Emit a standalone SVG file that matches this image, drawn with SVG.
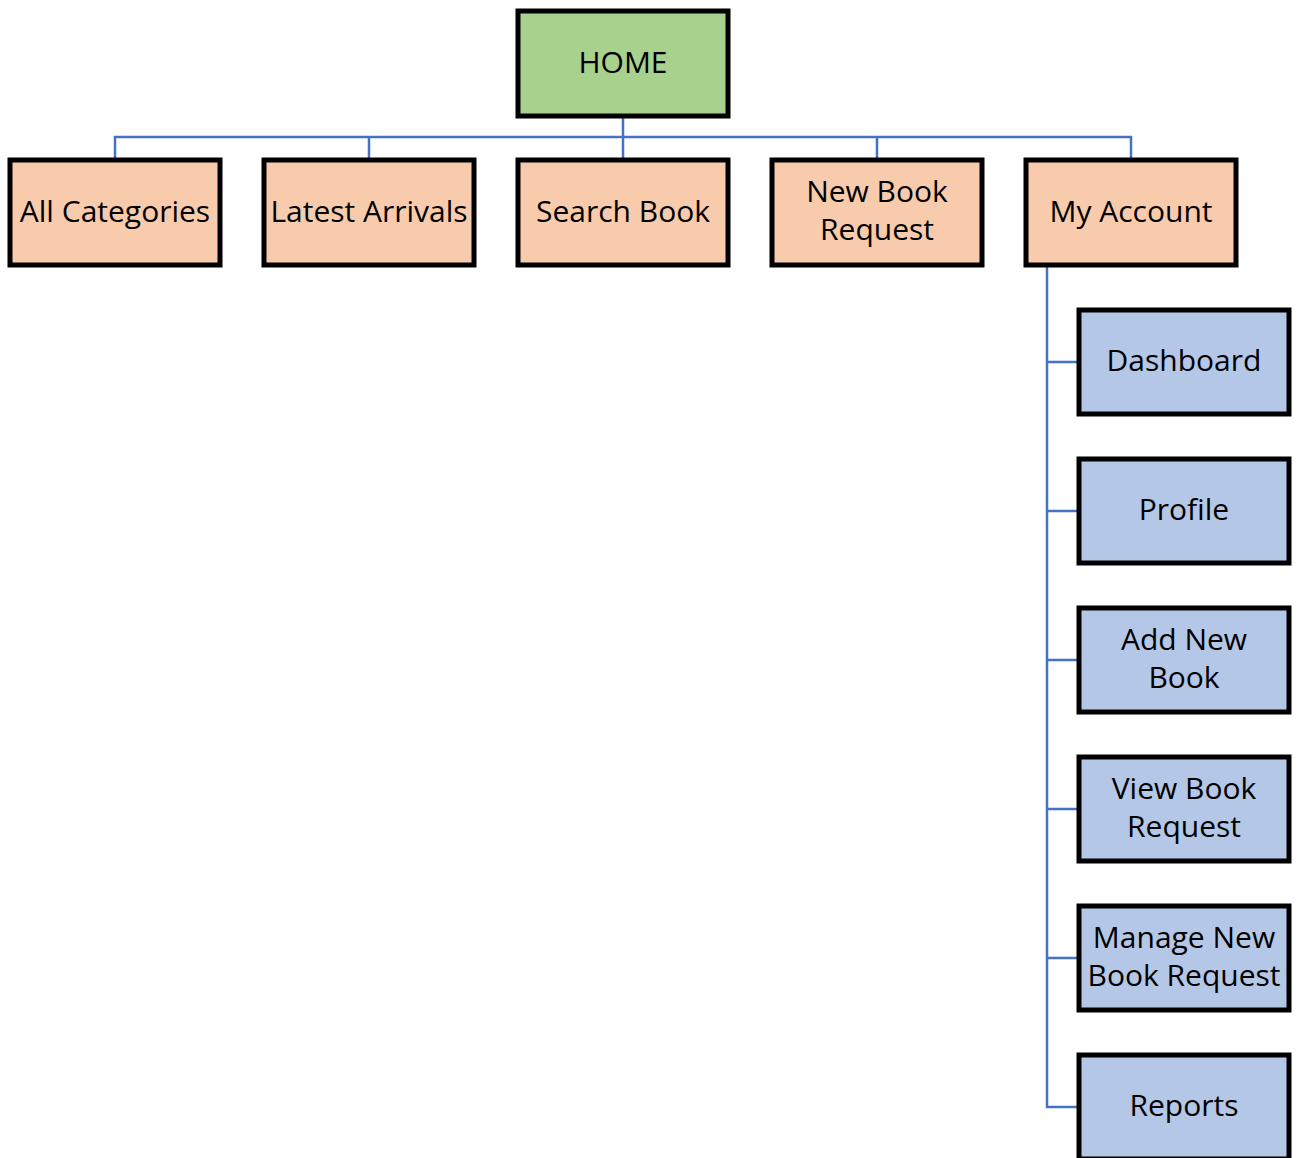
<svg xmlns="http://www.w3.org/2000/svg" width="1298" height="1158" viewBox="0 0 1298 1158">
<style>
.box{stroke:#000;stroke-width:5}
.home{fill:#a9d18e}
.top{fill:#f8cbad}
.sub{fill:#b4c7e7}
.lbl{font-family:"Open Sans","Liberation Sans",sans-serif;font-size:30px;fill:#000;text-anchor:middle}
.conn{fill:none;stroke:#4472c4;stroke-width:2.5}
</style>
<rect width="1298" height="1158" fill="#fff"/>
<g id="connectors">
<path class="conn" d="M623 116V158M115 158V137H1131V158M369 137V158M877 137V158"/>
<path class="conn" d="M1047 265V1107H1079M1047 362H1079M1047 511H1079M1047 660H1079M1047 809H1079M1047 958H1079"/>
</g>
<g id="home"><rect class="box home" x="518" y="11" width="210" height="105"/><text class="lbl" x="623" y="73">HOME</text></g>
<g id="all-categories"><rect class="box top" x="10" y="160" width="210" height="105"/><text class="lbl" x="115" y="222">All Categories</text></g>
<g id="latest-arrivals"><rect class="box top" x="264" y="160" width="210" height="105"/><text class="lbl" x="369" y="222">Latest Arrivals</text></g>
<g id="search-book"><rect class="box top" x="518" y="160" width="210" height="105"/><text class="lbl" x="623" y="222">Search Book</text></g>
<g id="new-book-request"><rect class="box top" x="772" y="160" width="210" height="105"/><text class="lbl" x="877" y="202">New Book</text><text class="lbl" x="877" y="240">Request</text></g>
<g id="my-account"><rect class="box top" x="1026" y="160" width="210" height="105"/><text class="lbl" x="1131" y="222">My Account</text></g>
<g id="dashboard"><rect class="box sub" x="1079" y="310" width="210" height="104"/><text class="lbl" x="1184" y="371">Dashboard</text></g>
<g id="profile"><rect class="box sub" x="1079" y="459" width="210" height="104"/><text class="lbl" x="1184" y="520">Profile</text></g>
<g id="add-new-book"><rect class="box sub" x="1079" y="608" width="210" height="104"/><text class="lbl" x="1184" y="650">Add New</text><text class="lbl" x="1184" y="688">Book</text></g>
<g id="view-book-request"><rect class="box sub" x="1079" y="757" width="210" height="104"/><text class="lbl" x="1184" y="799">View Book</text><text class="lbl" x="1184" y="837">Request</text></g>
<g id="manage-new-book-request"><rect class="box sub" x="1079" y="906" width="210" height="104"/><text class="lbl" x="1184" y="948">Manage New</text><text class="lbl" x="1184" y="986">Book Request</text></g>
<g id="reports"><rect class="box sub" x="1079" y="1055" width="210" height="104"/><text class="lbl" x="1184" y="1116">Reports</text></g>
</svg>
